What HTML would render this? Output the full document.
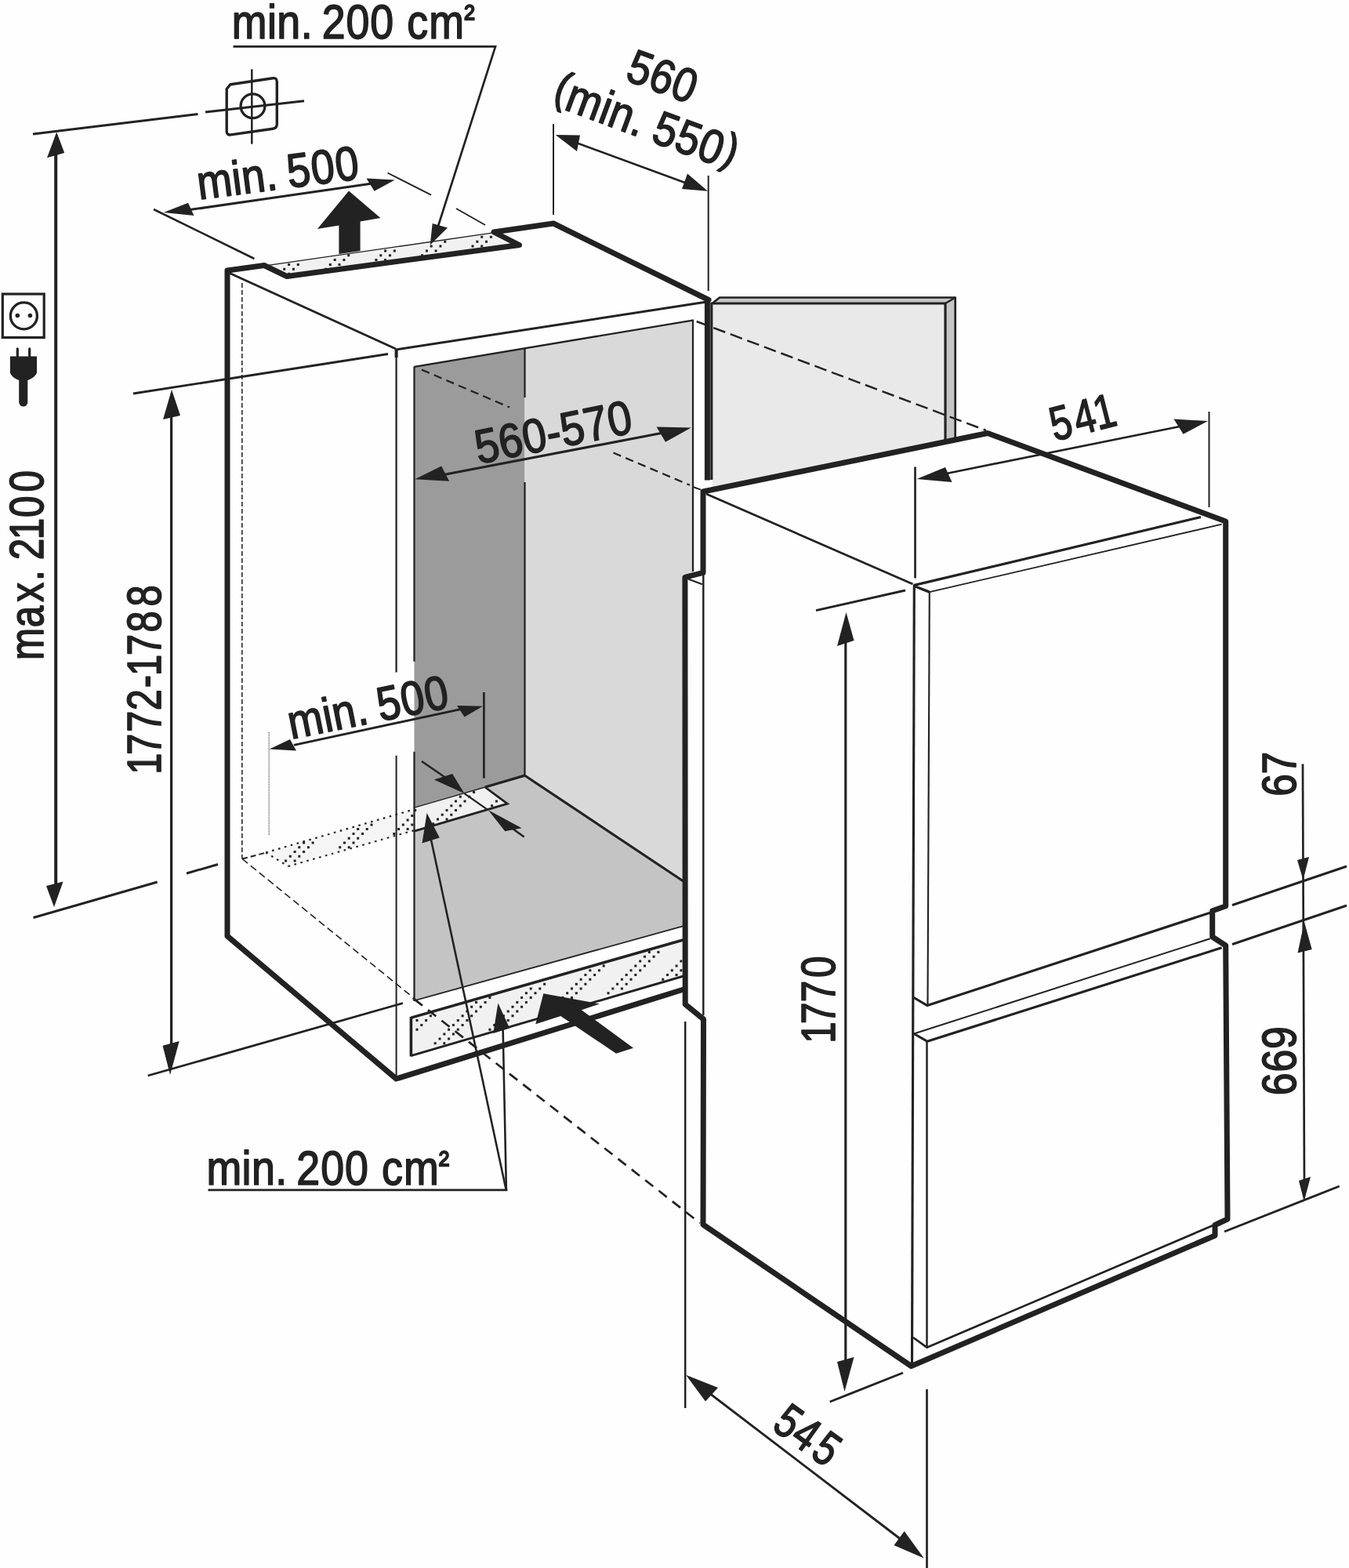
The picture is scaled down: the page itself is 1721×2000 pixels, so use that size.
<!DOCTYPE html>
<html lang="de">
<head>
<meta charset="utf-8">
<title>Einbauma&szlig;e</title>
<style>
html,body{margin:0;padding:0;background:#fefefe;}
body{width:1721px;height:2000px;overflow:hidden;}
svg{display:block;}
text{font-family:"Liberation Sans",sans-serif;fill:#222222;text-rendering:geometricPrecision;}
</style>
</head>
<body>
<svg width="1721" height="2000" viewBox="0 0 1721 2000">
<defs><filter id="plain" x="-5%" y="-20%" width="110%" height="140%"><feOffset dx="0" dy="0"/></filter></defs>
<rect x="0" y="0" width="1721" height="2000" fill="#fefefe"/>
<polygon points="528.5,467.5 669.5,444 669.5,990 528.5,1031" fill="#9b9b9b"/>
<polygon points="669.5,444 885,408 885,1132 669.5,990" fill="#d9d9d9"/>
<polygon points="528.5,1031 669.5,990 885,1132 885,1177.5 872,1181.1 528.5,1276.5" fill="#c4c4c4"/>
<polygon points="527.7,1030.4 618.8,1004 647.3,1025.2 527.7,1060.3" fill="#f1f1f1"/>
<path d="M529.7,1033.5h0M552.7,1050.8h0M558.5,1045h0M564.2,1039.3h0M570,1033.5h0M570,1045h0M575.8,1027.7h0M575.8,1039.3h0M581.5,1022h0M581.5,1033.5h0M587.3,1016.2h0M587.3,1027.7h0M593,1022h0M598.8,1016.2h0M604.6,1010.5h0M627.6,1027.7h0M633.4,1022h0" fill="none" stroke="#222222" stroke-width="3" stroke-linecap="square"/>
<polygon points="339.2,1087.4 527.7,1032.5 527.7,1059.3 367.6,1105" fill="#f5f5f5"/>
<path d="M364.6,1098h0M370.3,1092.2h0M376.1,1086.4h0M376.1,1098h0M381.8,1080.7h0M381.8,1092.2h0M387.6,1074.9h0M387.6,1086.4h0M393.4,1080.7h0M399.1,1074.9h0M433.7,1080.7h0M439.4,1074.9h0M445.2,1069.2h0M445.2,1080.7h0M451,1063.4h0M451,1074.9h0M456.7,1057.6h0M456.7,1069.2h0M462.5,1063.4h0M468.2,1057.6h0M474,1051.9h0M502.8,1063.4h0M508.6,1057.6h0M514.3,1051.9h0M520.1,1046.1h0M520.1,1057.6h0M525.8,1040.4h0M525.8,1051.9h0" fill="none" stroke="#222222" stroke-width="3" stroke-linecap="square"/>
<polygon points="524.4,1298.1 872,1198.8 872,1245 524.4,1346.7" fill="#f1f1f1"/>
<path d="M532,1301.6h0M532,1313.3h0M537.8,1307.5h0M543.6,1301.6h0M549.4,1295.8h0M555.2,1330.7h0M561,1324.9h0M566.8,1319.1h0M566.8,1330.7h0M572.6,1313.3h0M572.6,1324.9h0M578.4,1307.5h0M578.4,1319.1h0M584.3,1301.6h0M584.3,1313.3h0M590.1,1295.8h0M590.1,1307.5h0M595.9,1290h0M595.9,1301.6h0M601.7,1284.2h0M601.7,1295.8h0M607.5,1278.4h0M607.5,1290h0M613.3,1284.2h0M619.1,1278.4h0M624.9,1272.6h0M624.9,1313.3h0M630.7,1307.5h0M636.5,1301.6h0M642.4,1295.8h0M642.4,1307.5h0M648.2,1290h0M648.2,1301.6h0M654,1284.2h0M654,1295.8h0M659.8,1278.4h0M659.8,1290h0M665.6,1272.6h0M665.6,1284.2h0M671.4,1266.8h0M671.4,1278.4h0M677.2,1261h0M677.2,1272.6h0M683,1266.8h0M688.8,1261h0M694.6,1255.2h0M700.5,1290h0M706.3,1284.2h0M712.1,1278.4h0M717.9,1272.6h0M717.9,1284.2h0M723.7,1266.8h0M723.7,1278.4h0M729.5,1261h0M729.5,1272.6h0M735.3,1255.2h0M735.3,1266.8h0M741.1,1249.3h0M741.1,1261h0M746.9,1243.5h0M746.9,1255.2h0M752.8,1237.7h0M752.8,1249.3h0M758.6,1243.5h0M764.4,1237.7h0M770.2,1231.9h0M776,1266.8h0M781.8,1261h0M787.6,1255.2h0M793.4,1249.3h0M793.4,1261h0M799.2,1243.5h0M799.2,1255.2h0M805,1237.7h0M805,1249.3h0M810.8,1231.9h0M810.8,1243.5h0M816.7,1226.1h0M816.7,1237.7h0M822.5,1220.3h0M822.5,1231.9h0M828.3,1214.5h0M828.3,1226.1h0M834.1,1220.3h0M839.9,1214.5h0M845.7,1249.3h0M851.5,1243.5h0M857.3,1237.7h0M863.1,1231.9h0M863.1,1243.5h0M868.9,1226.1h0M868.9,1237.7h0" fill="none" stroke="#222222" stroke-width="3" stroke-linecap="square"/>
<polygon points="337,338.5 631,296 662.5,312.5 366,352.5" fill="#f1f1f1"/>
<path d="M362.7,343.3h0M368.6,337.5h0M368.6,349.2h0M374.4,343.3h0M380.3,337.5h0M415.4,343.3h0M421.3,337.5h0M427.2,331.6h0M433,337.5h0M438.9,331.6h0M444.7,325.7h0M479.9,331.6h0M485.8,325.7h0M491.6,319.9h0M491.6,331.6h0M497.5,325.7h0M503.3,319.9h0M538.5,325.7h0M544.4,319.9h0M550.2,314h0M550.2,325.7h0M556.1,319.9h0M561.9,314h0M567.8,308.2h0M603,314h0M608.8,308.2h0M614.7,302.3h0M614.7,314h0M620.5,308.2h0M626.4,302.3h0" fill="none" stroke="#222222" stroke-width="3" stroke-linecap="square"/>
<polygon points="908.7,387 1206,387 1206,566 908.7,628" fill="#e9e9e9"/>
<polygon points="1206,387 1218.7,379.5 1218.7,563 1206,566" fill="#c6c6c6"/>
<polygon points="908.7,387 918,379.5 1218.7,379.5 1206,387" fill="#c6c6c6"/>
<path d="M308.8,361 L308.8,1095.5" fill="none" stroke="#333" stroke-width="1.68" stroke-linecap="butt" stroke-linejoin="miter" stroke-dasharray="6 3"/>
<path d="M309,1095.5 L339,1087.6" fill="none" stroke="#222222" stroke-width="2.02" stroke-linecap="butt" stroke-linejoin="miter" stroke-dasharray="7 4"/>
<path d="M309,1095.5 L526.7,1272" fill="none" stroke="#222222" stroke-width="1.6" stroke-linecap="butt" stroke-linejoin="miter" stroke-dasharray="9 5"/>
<path d="M526.7,1273 L529,1274.8" fill="none" stroke="#222222" stroke-width="2.69" stroke-linecap="butt" stroke-linejoin="miter"/>
<path d="M528.7,1274.6 L893,1560" fill="none" stroke="#222222" stroke-width="2.69" stroke-linecap="butt" stroke-linejoin="miter" stroke-dasharray="13 9"/>
<path d="M339.2,1087.4 L527.7,1032.5" fill="none" stroke="#222222" stroke-width="2.24" stroke-linecap="butt" stroke-linejoin="miter" stroke-dasharray="2.6 5.6"/>
<path d="M367.6,1105 L527.7,1059.3" fill="none" stroke="#222222" stroke-width="2.24" stroke-linecap="butt" stroke-linejoin="miter" stroke-dasharray="2.6 5.6"/>
<path d="M339.2,1087.4 L367.6,1105" fill="none" stroke="#222222" stroke-width="2.24" stroke-linecap="butt" stroke-linejoin="miter" stroke-dasharray="2.6 5.6"/>
<path d="M343.2,934 L343.2,1065" fill="none" stroke="#666" stroke-width="1.57" stroke-linecap="butt" stroke-linejoin="miter" stroke-dasharray="1 1"/>
<path d="M291,347.5 L505,445" fill="none" stroke="#222222" stroke-width="2.91" stroke-linecap="butt" stroke-linejoin="miter"/>
<path d="M505,446 L900,385.3" fill="none" stroke="#222222" stroke-width="2.91" stroke-linecap="butt" stroke-linejoin="miter"/>
<path d="M505.6,446 L505.6,456" fill="none" stroke="#222222" stroke-width="4.03" stroke-linecap="butt" stroke-linejoin="miter"/>
<path d="M337,339.2 L631,296.7" fill="none" stroke="#222222" stroke-width="1.34" stroke-linecap="butt" stroke-linejoin="miter"/>
<path d="M505.6,445 L505.6,857.5" fill="none" stroke="#222222" stroke-width="2.24" stroke-linecap="butt" stroke-linejoin="miter"/>
<path d="M505.6,963.7 L505.6,1376" fill="none" stroke="#222222" stroke-width="2.02" stroke-linecap="butt" stroke-linejoin="miter"/>
<path d="M528.5,467.5 L528.5,843.7" fill="none" stroke="#222222" stroke-width="2.24" stroke-linecap="butt" stroke-linejoin="miter"/>
<path d="M528.5,958.7 L528.5,1277" fill="none" stroke="#222222" stroke-width="2.24" stroke-linecap="butt" stroke-linejoin="miter"/>
<path d="M528.5,467.8 L885,408.3" fill="none" stroke="#222222" stroke-width="2.35" stroke-linecap="butt" stroke-linejoin="miter"/>
<path d="M884,408 L884,729" fill="none" stroke="#222222" stroke-width="2.24" stroke-linecap="butt" stroke-linejoin="miter"/>
<path d="M669.5,444 L669.5,507" fill="none" stroke="#222222" stroke-width="2.24" stroke-linecap="butt" stroke-linejoin="miter"/>
<path d="M669.5,615 L669.5,990" fill="none" stroke="#222222" stroke-width="2.24" stroke-linecap="butt" stroke-linejoin="miter"/>
<path d="M669.6,989.2 L618.8,1004" fill="none" stroke="#222222" stroke-width="3.36" stroke-linecap="butt" stroke-linejoin="miter"/>
<path d="M669.6,989.2 L872.5,1124.5" fill="none" stroke="#222222" stroke-width="3.14" stroke-linecap="butt" stroke-linejoin="miter"/>
<path d="M527.7,1030.4 L618.8,1004" fill="none" stroke="#222222" stroke-width="1.34" stroke-linecap="butt" stroke-linejoin="miter"/>
<path d="M618.8,1004 L647.3,1025.2 L527.7,1060.3" fill="none" stroke="#222222" stroke-width="2.8" stroke-linecap="butt" stroke-linejoin="miter"/>
<path d="M527.7,1276.5 L872,1181.1" fill="none" stroke="#222222" stroke-width="1.79" stroke-linecap="butt" stroke-linejoin="miter"/>
<path d="M524.4,1298.1 L872,1198.8" fill="none" stroke="#222222" stroke-width="3.58" stroke-linecap="butt" stroke-linejoin="miter"/>
<path d="M524.4,1297 L524.4,1347.5" fill="none" stroke="#222222" stroke-width="3.58" stroke-linecap="butt" stroke-linejoin="miter"/>
<path d="M524.4,1346.7 L872,1245" fill="none" stroke="#222222" stroke-width="2.91" stroke-linecap="butt" stroke-linejoin="miter"/>
<path d="M538.1,471.6 L650,519.5" fill="none" stroke="#222222" stroke-width="2.24" stroke-linecap="butt" stroke-linejoin="miter" stroke-dasharray="10.5 6.5"/>
<path d="M782.5,577.5 L880,618.8" fill="none" stroke="#222222" stroke-width="2.24" stroke-linecap="butt" stroke-linejoin="miter" stroke-dasharray="10.5 6.5"/>
<path d="M888.7,410 L1258,549" fill="none" stroke="#222222" stroke-width="2.46" stroke-linecap="butt" stroke-linejoin="miter" stroke-dasharray="16 7"/>
<path d="M872,1262 L505.5,1376 L290,1194 L290,345 L337,338.5 L366,352.5 L662.5,312.5 L630,296 L706,285 L904,382.5" fill="none" stroke="#222222" stroke-width="7" stroke-linecap="round" stroke-linejoin="round"/>
<path d="M902.4,381 L902.4,612.5" fill="none" stroke="#222222" stroke-width="7" stroke-linecap="butt" stroke-linejoin="miter"/>
<path d="M908.7,387 L918,379.5 L1218.7,379.5 L1218.7,562" fill="none" stroke="#222222" stroke-width="2.69" stroke-linecap="butt" stroke-linejoin="round"/>
<path d="M907.8,612 L907.8,387 L1206,387 L1206,565" fill="none" stroke="#222222" stroke-width="3.14" stroke-linecap="butt" stroke-linejoin="miter"/>
<path d="M1206,387 L1218.7,379.5" fill="none" stroke="#222222" stroke-width="2.46" stroke-linecap="butt" stroke-linejoin="miter"/>
<polygon points="897,627 1260,552.5 1563.7,665 1566,1555 1550,1562.5 1550,1576 1162.5,1742.5 897,1562 897.5,1300 874.2,1281 873.9,736.3 897,730.4" fill="#fefefe"/>
<path d="M897,627 L1260,552.5 L1563.7,665 L1563.7,1155.7 L1546.7,1161.7 L1546.7,1195 L1563.7,1206 L1566,1555 L1550,1562.5 L1550,1576 L1162.5,1742.5 L897,1562 L897.5,1300 L874.2,1281 L873.9,736.3 L897,730.4 Z" fill="none" stroke="#222222" stroke-width="7" stroke-linecap="butt" stroke-linejoin="round"/>
<path d="M897.3,731 L897.3,1295" fill="none" stroke="#222222" stroke-width="2.46" stroke-linecap="butt" stroke-linejoin="miter"/>
<path d="M877.9,738.5 L895.9,745.3" fill="none" stroke="#222222" stroke-width="2.24" stroke-linecap="butt" stroke-linejoin="miter"/>
<path d="M884,621 L894,624.6" fill="none" stroke="#222222" stroke-width="2.02" stroke-linecap="butt" stroke-linejoin="miter"/>
<path d="M874.2,1303 L874.2,1796" fill="none" stroke="#222222" stroke-width="2.46" stroke-linecap="butt" stroke-linejoin="miter"/>
<path d="M901,630 L1164.5,745" fill="none" stroke="#222222" stroke-width="2.8" stroke-linecap="butt" stroke-linejoin="miter"/>
<path d="M1165.5,746.7 L1532,659.5" fill="none" stroke="#222222" stroke-width="3.25" stroke-linecap="butt" stroke-linejoin="miter"/>
<path d="M1166.3,747.5 L1185.8,755.1" fill="none" stroke="#222222" stroke-width="3.36" stroke-linecap="butt" stroke-linejoin="miter"/>
<path d="M1185.8,755.1 L1558.7,668.7" fill="none" stroke="#222222" stroke-width="1.79" stroke-linecap="butt" stroke-linejoin="miter"/>
<path d="M1166.3,746 L1163.5,1742" fill="none" stroke="#222222" stroke-width="3.14" stroke-linecap="butt" stroke-linejoin="miter"/>
<path d="M1185.8,755.1 L1183.5,1282" fill="none" stroke="#222222" stroke-width="2.13" stroke-linecap="butt" stroke-linejoin="miter"/>
<path d="M1165,1272 L1183,1282.5 L1543.7,1164.2" fill="none" stroke="#222222" stroke-width="3.14" stroke-linecap="butt" stroke-linejoin="miter"/>
<path d="M1166,1318.5 L1543.7,1197.3" fill="none" stroke="#222222" stroke-width="2.02" stroke-linecap="butt" stroke-linejoin="miter"/>
<path d="M1166,1318.5 L1183,1328.3 L1558.7,1208.8" fill="none" stroke="#222222" stroke-width="3.14" stroke-linecap="butt" stroke-linejoin="miter"/>
<path d="M1182.5,1328 L1182.5,1718.7" fill="none" stroke="#222222" stroke-width="2.46" stroke-linecap="butt" stroke-linejoin="miter"/>
<path d="M1165,1706 L1182.5,1718.7 L1548.7,1562.5" fill="none" stroke="#222222" stroke-width="2.69" stroke-linecap="butt" stroke-linejoin="miter"/>
<path d="M42,171 L252.5,145.5" fill="none" stroke="#222222" stroke-width="2.91" stroke-linecap="butt" stroke-linejoin="miter"/>
<path d="M262,143 L388,128.7" fill="none" stroke="#222222" stroke-width="2.91" stroke-linecap="butt" stroke-linejoin="miter"/>
<path d="M71.2,195 L71.2,1130" fill="none" stroke="#222222" stroke-width="4.03" stroke-linecap="butt" stroke-linejoin="miter"/>
<polygon points="72.2,168.5 60,201.3 82.2,195" fill="#222222"/>
<polygon points="69,1157 59,1130 80.5,1124.5" fill="#222222"/>
<path d="M42.5,1170.5 L200.7,1125" fill="none" stroke="#222222" stroke-width="2.91" stroke-linecap="butt" stroke-linejoin="miter"/>
<path d="M238,1114 L278,1102.5" fill="none" stroke="#222222" stroke-width="2.91" stroke-linecap="butt" stroke-linejoin="miter"/>
<path d="M321.3,88.3 L321.3,183.7" fill="none" stroke="#222222" stroke-width="2.46" stroke-linecap="butt" stroke-linejoin="miter"/>
<path d="M289.2,113.5 L293.8,107.7 L348,99.7 Q353.3,99 353.3,104.5 L353.3,158.5 Q353.3,163.5 348,164.2 L294.5,171.9 Q289.2,172.6 289.2,167.5 Z" fill="none" stroke="#222" stroke-width="3.4" stroke-linejoin="round"/>
<circle cx="322.5" cy="135.2" r="15.4" fill="none" stroke="#222" stroke-width="3.3"/>
<path d="M196,267 L324.5,330" fill="none" stroke="#222222" stroke-width="2.58" stroke-linecap="butt" stroke-linejoin="miter"/>
<path d="M494.5,220.5 L550,248.7" fill="none" stroke="#222222" stroke-width="1.9" stroke-linecap="butt" stroke-linejoin="miter"/>
<path d="M582,266 L619,287" fill="none" stroke="#222222" stroke-width="1.9" stroke-linecap="butt" stroke-linejoin="miter"/>
<path d="M235,268.6 L475,234" fill="none" stroke="#222222" stroke-width="3.02" stroke-linecap="butt" stroke-linejoin="miter"/>
<polygon points="208.7,271 240,258.7 247.5,275" fill="#222222"/>
<polygon points="503.7,229.5 467.5,227.5 477.5,243.7" fill="#222222"/>
<polygon points="445,243.5 485.4,278 459.6,282.4 459.6,320 432.4,324 432.4,287.6 404.9,292" fill="#222222"/>
<path d="M297.5,59.3 L632,59.3 L557.5,293" fill="none" stroke="#222222" stroke-width="2.69" stroke-linecap="butt" stroke-linejoin="miter"/>
<polygon points="548.7,312.5 551.7,285 571,290.5" fill="#222222"/>
<path d="M706,158 L706,274" fill="none" stroke="#222222" stroke-width="2.02" stroke-linecap="butt" stroke-linejoin="miter"/>
<path d="M903.7,224 L903.7,371" fill="none" stroke="#222222" stroke-width="2.02" stroke-linecap="butt" stroke-linejoin="miter"/>
<path d="M735,182 L878,234.5" fill="none" stroke="#222222" stroke-width="2.46" stroke-linecap="butt" stroke-linejoin="miter"/>
<polygon points="708.7,172 740,172.5 736,193" fill="#222222"/>
<polygon points="903,243.7 870,241 877,221.5" fill="#222222"/>
<path d="M170,502 L495,451.5" fill="none" stroke="#222222" stroke-width="2.91" stroke-linecap="butt" stroke-linejoin="miter"/>
<path d="M218.6,530 L218.6,1335" fill="none" stroke="#222222" stroke-width="3.25" stroke-linecap="butt" stroke-linejoin="miter"/>
<polygon points="219,497 208,535 230,530" fill="#222222"/>
<polygon points="217,1371 207.5,1333.7 228.7,1328" fill="#222222"/>
<path d="M188.7,1372 L514,1279.5" fill="none" stroke="#222222" stroke-width="2.8" stroke-linecap="butt" stroke-linejoin="miter"/>
<path d="M566,605.5 L846,552" fill="none" stroke="#222222" stroke-width="3.14" stroke-linecap="butt" stroke-linejoin="miter"/>
<polygon points="529.3,611.3 563.1,594.5 573.2,613.7" fill="#222222"/>
<polygon points="881.8,545.5 837.5,544.5 849,563.8" fill="#222222"/>
<path d="M617.4,883 L617.4,992.6" fill="none" stroke="#222222" stroke-width="2.69" stroke-linecap="butt" stroke-linejoin="miter"/>
<path d="M375,950.3 L590,904.2" fill="none" stroke="#222222" stroke-width="2.91" stroke-linecap="butt" stroke-linejoin="miter"/>
<polygon points="343.7,955.5 370,943 378,957.5" fill="#222222"/>
<polygon points="616,900.7 583,900 592.5,914.5" fill="#222222"/>
<path d="M538,971 L570,993" fill="none" stroke="#222222" stroke-width="2.46" stroke-linecap="butt" stroke-linejoin="miter"/>
<polygon points="592.4,1012.1 553.7,994.6 577.1,987.1" fill="#222222"/>
<path d="M592.4,1012.1 L622.9,1033.3" fill="none" stroke="#222222" stroke-width="2.24" stroke-linecap="butt" stroke-linejoin="miter"/>
<polygon points="622.9,1033.3 644.2,1060.3 665.6,1056.3" fill="#222222"/>
<path d="M652,1055.5 L668.6,1067.5" fill="none" stroke="#222222" stroke-width="2.69" stroke-linecap="butt" stroke-linejoin="miter"/>
<path d="M265.5,1517.8 L647.3,1517.8" fill="none" stroke="#222222" stroke-width="2.8" stroke-linecap="butt" stroke-linejoin="miter"/>
<path d="M549.3,1068 L645.9,1518.8" fill="none" stroke="#222222" stroke-width="2.58" stroke-linecap="butt" stroke-linejoin="miter"/>
<path d="M641.6,1312 L645.9,1518.8" fill="none" stroke="#222222" stroke-width="2.58" stroke-linecap="butt" stroke-linejoin="miter"/>
<polygon points="544.6,1036.9 538.5,1075.6 560.8,1068.5" fill="#222222"/>
<polygon points="635.4,1279.4 629.2,1318 650.2,1311.4" fill="#222222"/>
<polygon points="693.3,1267.2 765,1280.5 741.8,1288.2 808,1336.8 786,1343.8 715.3,1295.9 683.3,1306.3" fill="#222222"/>
<path d="M1167.5,595.5 L1167.5,737.5" fill="none" stroke="#222222" stroke-width="2.69" stroke-linecap="butt" stroke-linejoin="miter"/>
<path d="M1542.5,525 L1542.5,647" fill="none" stroke="#222222" stroke-width="2.02" stroke-linecap="butt" stroke-linejoin="miter"/>
<path d="M1205,604.5 L1505,544" fill="none" stroke="#222222" stroke-width="2.69" stroke-linecap="butt" stroke-linejoin="miter"/>
<polygon points="1169.5,611 1206,596 1214.5,615" fill="#222222"/>
<polygon points="1541,537 1497.5,534.5 1509.5,553.7" fill="#222222"/>
<path d="M1041,778.7 L1155,753" fill="none" stroke="#222222" stroke-width="2.91" stroke-linecap="butt" stroke-linejoin="miter"/>
<path d="M1078.8,815 L1078.8,1740" fill="none" stroke="#222222" stroke-width="3.14" stroke-linecap="butt" stroke-linejoin="miter"/>
<polygon points="1079.5,781 1068,824 1089.5,817" fill="#222222"/>
<polygon points="1077.5,1775 1068,1737 1089.5,1731" fill="#222222"/>
<path d="M1058.7,1788 L1152,1751" fill="none" stroke="#222222" stroke-width="2.91" stroke-linecap="butt" stroke-linejoin="miter"/>
<path d="M1662,974.5 L1664,1510" fill="none" stroke="#222222" stroke-width="2.69" stroke-linecap="butt" stroke-linejoin="miter"/>
<polygon points="1662.5,1122.5 1655,1097 1670,1093" fill="#222222"/>
<polygon points="1664,1176 1655.5,1215.5 1673.7,1211" fill="#222222"/>
<polygon points="1663.7,1532.5 1657,1506 1672,1501" fill="#222222"/>
<path d="M1572,1154.5 L1718,1105" fill="none" stroke="#222222" stroke-width="2.91" stroke-linecap="butt" stroke-linejoin="miter"/>
<path d="M1572,1204.5 L1718,1155" fill="none" stroke="#222222" stroke-width="2.91" stroke-linecap="butt" stroke-linejoin="miter"/>
<path d="M1562,1571 L1708.7,1513" fill="none" stroke="#222222" stroke-width="2.91" stroke-linecap="butt" stroke-linejoin="miter"/>
<path d="M1182.5,1772 L1182.5,2000" fill="none" stroke="#222222" stroke-width="2.69" stroke-linecap="butt" stroke-linejoin="miter"/>
<path d="M905,1777 L1150,1964" fill="none" stroke="#222222" stroke-width="2.91" stroke-linecap="butt" stroke-linejoin="miter"/>
<polygon points="875,1753.7 916,1770 900,1787.5" fill="#222222"/>
<polygon points="1178.7,1987.5 1153.7,1953 1140.5,1971" fill="#222222"/>
<rect x="3.3" y="375" width="52.9" height="55.5" fill="none" stroke="#222" stroke-width="3.2"/>
<circle cx="30.4" cy="402.9" r="17" fill="none" stroke="#222" stroke-width="3.3"/>
<circle cx="22.3" cy="402.5" r="2.8" fill="#222"/><circle cx="38.4" cy="402.5" r="2.8" fill="#222"/>
<path d="M20.7,444.9 Q20.7,443.3 22.3,443.3 Q23.9,443.3 23.9,444.9 L23.9,454.4 L36.1,454.4 L36.1,444.9 Q36.1,443.3 37.7,443.3 Q39.3,443.3 39.3,444.9 L39.3,454.4 L47,454.4 L47,475.6 C45,480.5 40,483.5 35.3,485 L35.3,513 A5.55,5.55 0 0 1 24.2,513 L24.2,485 C19.5,483.5 14.9,480.5 12.9,475.6 L12.9,454.4 L20.7,454.4 Z" fill="#222"/>
<text transform="translate(298.60,49.35) rotate(0) scale(0.8798,1)" font-size="61" stroke="#222222" stroke-width="1.7" stroke-linejoin="round" filter="url(#plain)"><tspan x="-3.12" style="letter-spacing:0.49px">min.</tspan> <tspan x="127.49" style="letter-spacing:1.08px">200</tspan> <tspan x="250.89" style="letter-spacing:1.28px">cm</tspan><tspan x="333.78" dy="-10.90" font-size="45.8" stroke-width="1.70">²</tspan></text>
<text transform="translate(266.20,1511.15) rotate(0) scale(0.8798,1)" font-size="61" stroke="#222222" stroke-width="1.7" stroke-linejoin="round" filter="url(#plain)"><tspan x="-3.12" style="letter-spacing:0.49px">min.</tspan> <tspan x="127.49" style="letter-spacing:1.08px">200</tspan> <tspan x="250.89" style="letter-spacing:1.28px">cm</tspan><tspan x="333.78" dy="-10.90" font-size="45.8" stroke-width="1.70">²</tspan></text>
<text transform="translate(256.59,254.26) rotate(-7.4) scale(0.8789,1)" font-size="61" stroke="#222222" stroke-width="1.7" stroke-linejoin="round"><tspan x="-3.12" style="letter-spacing:0.49px">min.</tspan> <tspan x="128.69" style="letter-spacing:1.29px">500</tspan></text>
<text transform="translate(374.23,942.17) rotate(-11.3) scale(0.8789,1)" font-size="61" stroke="#222222" stroke-width="1.7" stroke-linejoin="round"><tspan x="-3.12" style="letter-spacing:0.49px">min.</tspan> <tspan x="128.69" style="letter-spacing:1.29px">500</tspan></text>
<text transform="translate(797.39,102.00) rotate(20.3) scale(0.8695,1)" font-size="61" stroke="#222222" stroke-width="1.7" stroke-linejoin="round"><tspan x="-1.59" style="letter-spacing:0.68px">560</tspan></text>
<text transform="translate(706.24,134.60) rotate(20.3) scale(0.8845,1)" font-size="61" stroke="#222222" stroke-width="1.7" stroke-linejoin="round"><tspan x="-5.44" dy="-6.50" font-size="56.7" stroke-width="1.70">(</tspan><tspan x="14.64" dy="6.50" style="letter-spacing:0.49px">min.</tspan> <tspan x="147.65" style="letter-spacing:0.80px">550</tspan><tspan x="253.24" dy="-6.50" font-size="56.7" stroke-width="1.70">)</tspan></text>
<text transform="translate(611.83,591.37) rotate(-11.4) scale(0.8942,1)" font-size="61" stroke="#222222" stroke-width="1.7" stroke-linejoin="round"><tspan x="-1.59" style="letter-spacing:0.49px">560-570</tspan></text>
<text transform="translate(1346.49,562.48) rotate(-14.3) scale(0.8000,1)" font-size="61" stroke="#222222" stroke-width="1.7" stroke-linejoin="round"><tspan x="-1.62">5</tspan><tspan x="37.35">4</tspan><tspan x="70.37">1</tspan></text>
<text transform="translate(55.35,839.60) rotate(-90) scale(0.8100,1)" font-size="61" stroke="#222222" stroke-width="1.7" stroke-linejoin="round"><tspan x="-2.85">m</tspan><tspan x="48.74">a</tspan><tspan x="88.70">x</tspan><tspan x="121.61">.</tspan> <tspan x="154.80">2</tspan><tspan x="186.75">1</tspan><tspan x="221.84">0</tspan><tspan x="261.96">0</tspan></text>
<text transform="translate(205.35,983.80) rotate(-90) scale(0.8000,1)" font-size="61" stroke="#222222" stroke-width="1.7" stroke-linejoin="round"><tspan x="-4.88">1</tspan><tspan x="26.38">7</tspan><tspan x="62.51">7</tspan><tspan x="96.82">2</tspan><tspan x="133.34">-</tspan><tspan x="152.25">1</tspan><tspan x="184.88">7</tspan><tspan x="221.67">8</tspan><tspan x="262.92">8</tspan></text>
<text transform="translate(1065.15,1327.00) rotate(-90) scale(0.8100,1)" font-size="61" stroke="#222222" stroke-width="1.7" stroke-linejoin="round"><tspan x="-4.73">1</tspan><tspan x="25.85">7</tspan><tspan x="60.17">7</tspan><tspan x="98.63">0</tspan></text>
<text transform="translate(1653.45,1014.50) rotate(-90) scale(0.8400,1)" font-size="61" stroke="#222222" stroke-width="1.7" stroke-linejoin="round"><tspan x="-1.48">6</tspan><tspan x="32.18">7</tspan></text>
<text transform="translate(1653.45,1395.50) rotate(-90) scale(0.8500,1)" font-size="61" stroke="#222222" stroke-width="1.7" stroke-linejoin="round"><tspan x="-2.02">6</tspan><tspan x="32.80">6</tspan><tspan x="67.72">9</tspan></text>
<text transform="translate(984.69,1823.11) rotate(35.5) scale(0.7900,1)" font-size="61" stroke="#222222" stroke-width="1.7" stroke-linejoin="round"><tspan x="-2.56">5</tspan><tspan x="33.16">4</tspan><tspan x="73.71">5</tspan></text>
</svg>
</body>
</html>
